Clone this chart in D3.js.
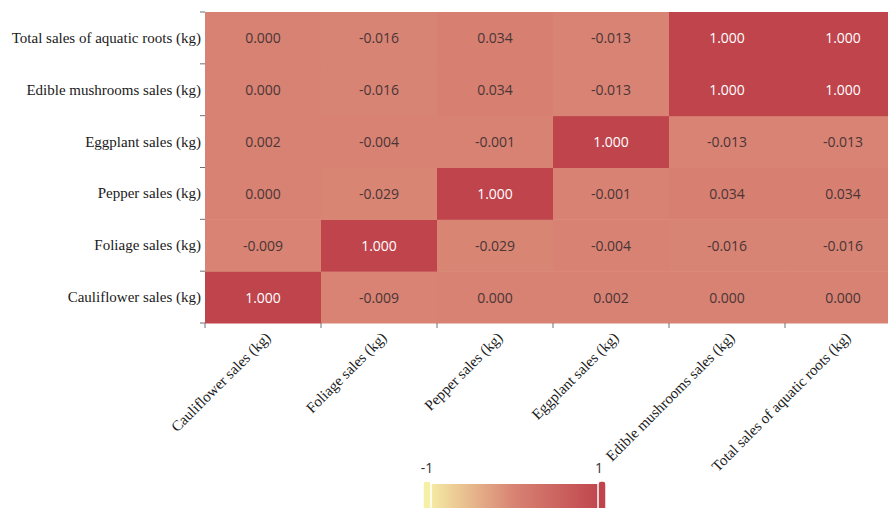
<!DOCTYPE html>
<html>
<head>
<meta charset="utf-8">
<script src="https://cdn.jsdelivr.net/npm/d3@7/dist/d3.min.js"></script>
<style>
  html, body { margin: 0; padding: 0; background: #fff; overflow: hidden; }
  svg { display: block; }
</style>
</head>
<body>
<svg id="chart" width="888" height="508"></svg>
<script>
// Variables, in the order used on both axes (x left→right, y bottom→top)
const categories = [
  "Cauliflower sales (kg)",
  "Foliage sales (kg)",
  "Pepper sales (kg)",
  "Eggplant sales (kg)",
  "Edible mushrooms sales (kg)",
  "Total sales of aquatic roots (kg)"
];

// Pearson correlation matrix, rows/cols follow `categories`
const corrCauliflower = [1.000, -0.009, 0.000, 0.002, 0.000, 0.000];
const corrFoliage     = [-0.009, 1.000, -0.029, -0.004, -0.016, -0.016];
const corrPepper      = [0.000, -0.029, 1.000, -0.001, 0.034, 0.034];
const corrEggplant    = [0.002, -0.004, -0.001, 1.000, -0.013, -0.013];
const corrMushrooms   = [0.000, -0.016, 0.034, -0.013, 1.000, 1.000];
const corrAquatic     = [0.000, -0.016, 0.034, -0.013, 1.000, 1.000];
const matrix = [corrCauliflower, corrFoliage, corrPepper, corrEggplant, corrMushrooms, corrAquatic];

const legendLabels = ["-1", "1"];

const svg = d3.select("#chart");

const gridLeft = 205, gridTop = 12, cellW = 116, gridBottom = 323;
const x = d3.scaleBand().domain(categories).range([gridLeft, gridLeft + cellW * categories.length]);
const y = d3.scaleBand().domain(categories).range([gridBottom, gridTop]);

const color = d3.scaleLinear()
  .domain([-1, 0, 1])
  .range(["#f6efa6", "#d88273", "#bf444c"]);

// flatten into cells
const cells = [];
matrix.forEach((row, i) => row.forEach((v, j) => {
  cells.push({ row: categories[i], col: categories[j], value: v });
}));

svg.append("g").selectAll("rect")
  .data(cells)
  .join("rect")
  .attr("x", d => x(d.col))
  .attr("y", d => y(d.row))
  .attr("width", x.bandwidth() + 0.5)
  .attr("height", y.bandwidth() + 0.5)
  .attr("fill", d => color(d.value));

svg.append("g").selectAll("text")
  .data(cells)
  .join("text")
  .attr("x", d => x(d.col) + x.bandwidth() / 2)
  .attr("y", d => y(d.row) + y.bandwidth() / 2)
  .attr("text-anchor", "middle")
  .attr("dominant-baseline", "central")
  .attr("font-family", "'Open Sans', 'Noto Sans', sans-serif")
  .attr("font-size", 14)
  .attr("fill", d => d.value > 0.5 ? "#ffffff" : "#4a3535")
  .text(d => d.value.toFixed(3));

// Y axis: ticks on band boundaries, labels centred on bands
const yAxisG = svg.append("g");
const yBounds = d3.range(categories.length + 1).map(i => gridTop + i * y.bandwidth());
yAxisG.selectAll("line")
  .data(yBounds)
  .join("line")
  .attr("x1", gridLeft - 5).attr("x2", gridLeft)
  .attr("y1", d => d).attr("y2", d => d)
  .attr("stroke", "#6e7079").attr("stroke-width", 1);
yAxisG.selectAll("text")
  .data(categories)
  .join("text")
  .attr("x", gridLeft - 4)
  .attr("y", d => y(d) + y.bandwidth() / 2)
  .attr("text-anchor", "end")
  .attr("dominant-baseline", "central")
  .attr("font-family", "'Liberation Serif', 'Times New Roman', serif")
  .attr("font-size", 15)
  .attr("fill", "#1a1a1a")
  .text(d => d);

// X axis
const xAxisG = svg.append("g");
const xBounds = d3.range(categories.length + 1).map(i => gridLeft + i * x.bandwidth());
xAxisG.selectAll("line")
  .data(xBounds)
  .join("line")
  .attr("x1", d => d).attr("x2", d => d)
  .attr("y1", gridBottom).attr("y2", gridBottom + 5)
  .attr("stroke", "#6e7079").attr("stroke-width", 1);
xAxisG.selectAll("text")
  .data(categories)
  .join("text")
  .attr("transform", d => `translate(${x(d) + x.bandwidth() / 2 + 5},${gridBottom + 12}) rotate(-45)`)
  .attr("text-anchor", "end")
  .attr("dominant-baseline", "central")
  .attr("font-family", "'Liberation Serif', 'Times New Roman', serif")
  .attr("font-size", 15)
  .attr("fill", "#1a1a1a")
  .text(d => d);

// Continuous colour legend
const legX0 = 427, legX1 = 602, legY = 484, legH = 24;
const defs = svg.append("defs");
const grad = defs.append("linearGradient").attr("id", "legGrad")
  .attr("x1", "0%").attr("x2", "100%").attr("y1", "0%").attr("y2", "0%");
[-1, 0, 1].forEach(v => {
  grad.append("stop").attr("offset", `${(v + 1) * 50}%`).attr("stop-color", color(v));
});
svg.append("rect")
  .attr("x", legX0).attr("y", legY)
  .attr("width", legX1 - legX0).attr("height", legH)
  .attr("fill", "url(#legGrad)");
// end handles
[[legX0, -1], [legX1, 1]].forEach(([hx, v]) => {
  svg.append("rect")
    .attr("x", hx - 4).attr("y", legY - 3)
    .attr("width", 8).attr("height", legH + 6)
    .attr("rx", 3)
    .attr("fill", color(v))
    .attr("stroke", "#ffffff").attr("stroke-width", 1.5);
});
svg.selectAll(".legLabel")
  .data(legendLabels)
  .join("text")
  .attr("class", "legLabel")
  .attr("x", (d, i) => i === 0 ? legX0 : legX1 - 3)
  .attr("y", 467)
  .attr("text-anchor", "middle")
  .attr("dominant-baseline", "central")
  .attr("font-family", "'Open Sans', 'Noto Sans', sans-serif")
  .attr("font-size", 14)
  .attr("fill", "#333")
  .text(d => d);
</script>
</body>
</html>
